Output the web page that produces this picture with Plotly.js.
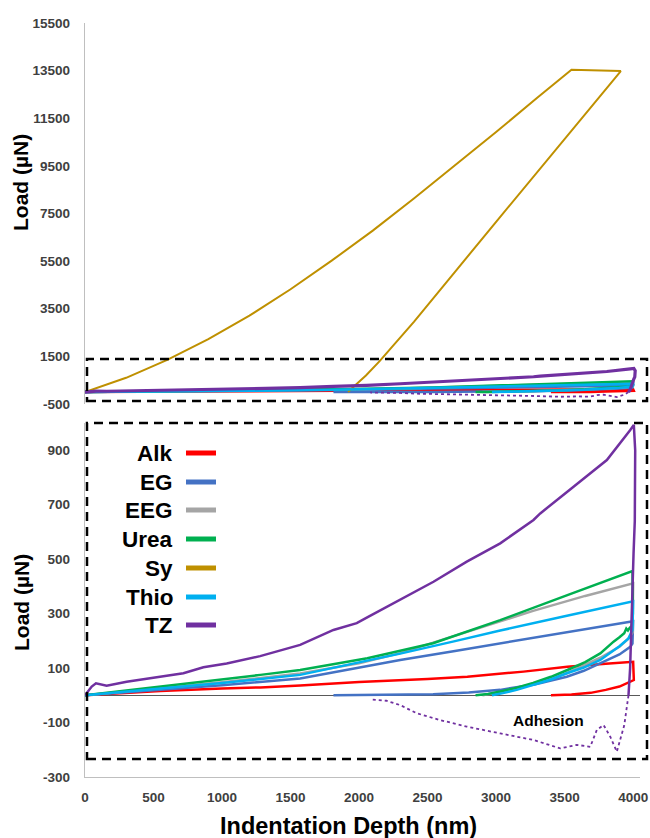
<!DOCTYPE html>
<html>
<head>
<meta charset="utf-8">
<script src="https://cdn.plot.ly/plotly-3.0.1.min.js"></script>
<style>html,body{margin:0;padding:0;background:#fff;}#chart{width:650px;height:838px;}</style>
</head>
<body>
<div id="chart"></div>
<script>
// ---- Data (indentation depth in nm, load in µN) ----
const seriesNames = ["Alk", "EG", "EEG", "Urea", "Sy", "Thio", "TZ"];
const seriesColors = ["#FF0000", "#4472C4", "#A5A5A5", "#00B050", "#BF9000", "#00B0F0", "#7030A0"];

const depthAlk = [0, 550, 1000, 1280, 1570, 2000, 2500, 2790, 3200, 3520, 3800, 4000, 4005, 3950, 3900, 3800, 3690, 3550, 3400];
const loadAlk  = [0, 16, 25, 29, 36, 49, 60, 68, 87, 105, 116, 123, 56, 42, 32, 20, 9, 3, 0];

const depthEG = [0, 500, 1000, 1570, 2000, 2300, 2700, 3030, 3500, 3950, 4000, 3995, 3979, 3900, 3760, 3640, 3516, 3280, 3030, 2800, 2540, 2200, 1813];
const loadEG  = [0, 18, 37, 62, 101, 130, 163, 191, 230, 268, 272, 190, 178, 150, 117, 90, 68, 40, 20, 10, 4, 1, 0];

const depthEEG = [0, 500, 1000, 1570, 2000, 2300, 2790, 3270, 3650, 4000, 3995, 3960, 3900, 3760, 3520, 3270, 3030, 2900];
const loadEEG  = [0, 24, 48, 80, 118, 155, 232, 310, 365, 411, 230, 205, 178, 138, 82, 40, 12, 0];

const depthUrea = [0, 550, 1000, 1280, 1570, 1935, 2060, 2540, 3030, 3520, 3995, 3998, 3990, 3975, 3962, 3950, 3935, 3900, 3857, 3760, 3650, 3520, 3400, 3270, 3150, 3030, 2940, 2850];
const loadUrea  = [0, 32, 57, 75, 93, 123, 136, 191, 276, 368, 456, 300, 255, 248, 238, 245, 228, 213, 197, 154, 122, 93, 68, 45, 28, 14, 5, 0];

const depthSy = [0, 300, 600, 900, 1200, 1500, 1800, 2100, 2400, 2700, 3000, 3300, 3550, 3910, 3600, 3300, 3000, 2700, 2400, 2150, 2050, 1980, 1920];
const loadSy  = [0, 600, 1350, 2220, 3210, 4320, 5520, 6780, 8130, 9510, 10920, 12360, 13540, 13480, 11340, 9240, 7150, 5050, 2950, 1300, 700, 330, 0];

const depthThio = [0, 500, 1000, 1570, 2000, 2300, 2700, 3030, 3500, 4000, 3995, 3966, 3900, 3760, 3640, 3516, 3400, 3273, 3150, 3050, 2970];
const loadThio  = [0, 22, 45, 75, 121, 153, 199, 238, 290, 345, 240, 209, 180, 130, 102, 81, 58, 38, 20, 8, 0];

const depthTZ = [0, 49, 80, 158, 304, 548, 718, 864, 1034, 1278, 1570, 1813, 1983, 2056, 2300, 2543, 2786, 3030, 3273, 3322, 3565, 3808, 3979, 4005, 4015, 4012, 4003, 3991, 3978, 3966];
const loadTZ  = [0, 32, 44, 35, 50, 68, 81, 103, 117, 144, 185, 240, 265, 285, 350, 417, 491, 558, 644, 668, 766, 864, 974, 993, 900, 640, 522, 276, 100, 0];

// TZ adhesion (dotted) part of the unloading
const depthTZAdh = [3966, 3935, 3881, 3833, 3784, 3735, 3687, 3589, 3468, 3273, 3030, 2786, 2592, 2421, 2300, 2200, 2081];
const loadTZAdh  = [0, -110, -207, -152, -109, -127, -189, -182, -195, -164, -140, -115, -91, -66, -36, -20, -15];

const xTicks = [0, 500, 1000, 1500, 2000, 2500, 3000, 3500, 4000];
const yTicksTop = [-500, 1500, 3500, 5500, 7500, 9500, 11500, 13500, 15500];
const yTicksBottom = [-300, -100, 100, 300, 500, 700, 900];

const allDepth = [depthAlk, depthEG, depthEEG, depthUrea, depthSy, depthThio, depthTZ];
const allLoad  = [loadAlk, loadEG, loadEEG, loadUrea, loadSy, loadThio, loadTZ];

// ---- Traces ----
const traces = [];
// bottom (zoomed) plot: all except Sy
for (let i = 0; i < seriesNames.length; i++) {
  if (seriesNames[i] === "Sy") continue;
  traces.push({
    x: allDepth[i], y: allLoad[i], xaxis: "x", yaxis: "y",
    type: "scatter", mode: "lines", name: seriesNames[i], showlegend: false,
    line: {color: seriesColors[i], width: 2.5}, hoverinfo: "skip"
  });
}
traces.push({
  x: depthTZAdh, y: loadTZAdh, xaxis: "x", yaxis: "y",
  type: "scatter", mode: "lines", showlegend: false,
  line: {color: "#7030A0", width: 1.8, dash: "dot"}, hoverinfo: "skip"
});
// top (full) plot
for (let i = 0; i < seriesNames.length; i++) {
  traces.push({
    x: allDepth[i], y: allLoad[i], xaxis: "x2", yaxis: "y2",
    type: "scatter", mode: "lines", name: seriesNames[i], showlegend: false,
    line: {color: seriesColors[i], width: seriesNames[i] === "Sy" ? 2 : (seriesNames[i] === "TZ" ? 3.2 : 2.5)},
    hoverinfo: "skip"
  });
}
traces.push({
  x: depthTZAdh, y: loadTZAdh, xaxis: "x2", yaxis: "y2",
  type: "scatter", mode: "lines", showlegend: false,
  line: {color: "#7030A0", width: 1.8, dash: "dot"}, hoverinfo: "skip"
});

// ---- Layout helpers (pixel -> paper) ----
const W = 650, H = 838, ML = 85, MR = 10, MT = 23, MB = 61;
const PW = W - ML - MR, PH = H - MT - MB;
const px = v => (v - ML) / PW;
const py = v => (H - MB - v) / PH;

const tickFont = {family: "Arial, 'Liberation Sans', sans-serif", size: 13.5, color: "#404040", weight: "bold"};
const boldFont = (s) => ({family: "Arial, 'Liberation Sans', sans-serif", size: s, color: "#000", weight: "bold"});

const annotations = [];
const shapes = [];

// legend drawn as text + line samples (text left of sample, as in reference)
const legendY = [453, 482, 510, 539, 568, 597, 625];
for (let i = 0; i < seriesNames.length; i++) {
  annotations.push({
    xref: "paper", yref: "paper", x: px(175), y: py(legendY[i]),
    xanchor: "right", yanchor: "middle", showarrow: false,
    text: seriesNames[i], font: boldFont(22.5)
  });
  shapes.push({
    type: "line", xref: "paper", yref: "paper",
    x0: px(186), x1: px(216), y0: py(legendY[i]), y1: py(legendY[i]),
    line: {color: seriesColors[i], width: 5}
  });
}

// axis titles
annotations.push({xref: "paper", yref: "paper", x: px(21), y: py(183), textangle: -90,
  showarrow: false, xanchor: "center", yanchor: "middle", text: "Load (µN)", font: boldFont(21)});
annotations.push({xref: "paper", yref: "paper", x: px(21), y: py(603), textangle: -90,
  showarrow: false, xanchor: "center", yanchor: "middle", text: "Load (µN)", font: boldFont(21)});
annotations.push({xref: "paper", yref: "paper", x: px(348), y: py(826),
  showarrow: false, xanchor: "center", yanchor: "middle", text: "Indentation Depth (nm)", font: boldFont(23.5)});
// Adhesion label
annotations.push({xref: "x", yref: "y", x: 3380, y: -91, showarrow: false,
  text: "Adhesion", font: boldFont(15.5)});

// dashed boxes
const boxLine = {color: "#000", width: 2.5, dash: "9px,6px"};
shapes.push({type: "rect", xref: "paper", yref: "paper", x0: px(87), x1: px(647), y0: py(401), y1: py(359), line: boxLine});
shapes.push({type: "rect", xref: "paper", yref: "paper", x0: px(87), x1: px(647), y0: py(759), y1: py(423), line: boxLine});

const layout = {
  width: W, height: H,
  margin: {l: ML, r: MR, t: MT, b: MB, pad: 0},
  paper_bgcolor: "#fff", plot_bgcolor: "#fff",
  showlegend: false,
  xaxis: {
    domain: [0, 1], anchor: "y", range: [0, 4050],
    tickvals: xTicks, ticktext: xTicks.map(String), ticks: "", tickfont: tickFont,
    ticklabelstandoff: 7,
    showline: true, linecolor: "#BFBFBF", linewidth: 1.3, showgrid: false, zeroline: false
  },
  yaxis: {
    domain: [0, py(423)], anchor: "x", range: [-300, 1000],
    tickvals: yTicksBottom, ticktext: yTicksBottom.map(String), ticks: "", tickfont: tickFont,
    ticklabelstandoff: 11,
    showline: true, linecolor: "#BFBFBF", linewidth: 1.3, showgrid: false,
    zeroline: true, zerolinecolor: "#595959", zerolinewidth: 1
  },
  xaxis2: {
    domain: [0, 1], anchor: "y2", range: [0, 4050],
    showticklabels: false, ticks: "", showline: false, showgrid: false, zeroline: false
  },
  yaxis2: {
    domain: [py(404), 1], anchor: "x2", range: [-500, 15500],
    tickvals: yTicksTop, ticktext: yTicksTop.map(String), ticks: "", tickfont: tickFont,
    ticklabelstandoff: 11,
    showline: true, linecolor: "#BFBFBF", linewidth: 1.3, showgrid: false, zeroline: false
  },
  annotations: annotations,
  shapes: shapes
};

Plotly.newPlot("chart", traces, layout, {staticPlot: true, displayModeBar: false});
</script>
</body>
</html>
